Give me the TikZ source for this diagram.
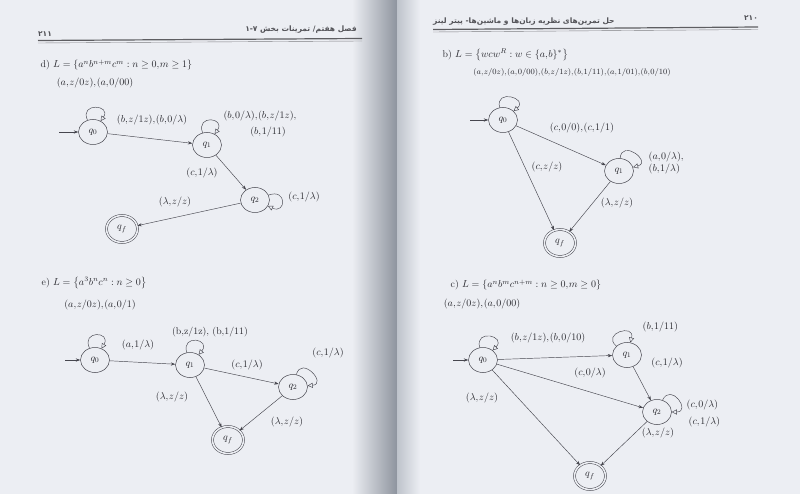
\documentclass[tikz,border=0pt]{standalone}
\usepackage{amssymb}
\usepackage{fontspec}
\usetikzlibrary{arrows.meta}
\usetikzlibrary{shapes.geometric}
\usetikzlibrary{positioning}
\TeXXeTstate=1
\newfontfamily\farsifont[Script=Arabic]{DejaVu Sans}
\definecolor{paper}{RGB}{236,238,243}
\definecolor{gutter}{RGB}{142,148,158}
\definecolor{gutterR}{RGB}{190,195,203}
\definecolor{ink}{RGB}{40,40,46}
\definecolor{wire}{RGB}{70,70,78}
% the book sets the commas in the labels tight
\newcommand{\lblfont}[1]{\fontsize{#1}{11}\selectfont\thinmuskip=1mu\relax}

\begin{document}
\begin{tikzpicture}[x=1pt, y=1pt,
     mystate/.style={ellipse, draw=wire, line width=0.5pt, minimum width=29pt, minimum height=25pt, inner sep=0pt, text=ink, font=\fontsize{10}{12}\selectfont},
     myfinal/.style={mystate, minimum width=31pt, minimum height=27pt, double=paper, double distance=1.6pt},
     mytrans/.style={draw=wire, line width=0.45pt, -{Stealth[length=4.5pt,width=3.2pt]}},
     myloop/.style={draw=wire, line width=0.45pt, min distance=20pt, -{Triangle[length=5pt,width=5pt,fill=paper]}},  % hollow tip on the self loops
     mylabel/.style={text=ink, inner sep=0.5pt, font={\lblfont{9.8}}},
     myhead/.style={text=ink!80, inner sep=0pt, font=\farsifont\bfseries\fontsize{7.5}{9}\selectfont}
 ]
 \useasboundingbox (0,0) rectangle (800,-494);

 % the two pages and the fold between them
 \fill[paper] (0,0) rectangle (800,-494);
 \shade[left color=paper, right color=gutter] (352,0) rectangle (397,-494);
 \shade[left color=gutterR, right color=paper] (397,0) rectangle (420,-494);

 % running heads
 \node[myhead, anchor=east] (headL) at (357,-30) {\beginR فصل هفتم/ تمرینات بخش ۱-۷\endR};
 \node[myhead] (pageL) at (45,-34) {۲۱۱};
 \draw[ink!75, line width=1.2pt] (38,-40.5) -- (362,-38.5);
 \draw[ink!60, line width=0.4pt] (38,-43) -- (362,-41);
 \node[myhead, anchor=west] (headR) at (433,-22) {\beginR حل تمرین‌های نظریه زبان‌ها و ماشین‌ها- پیتر لینز\endR};
 \node[myhead] (pageR) at (751,-18) {۲۱۰};
 \draw[ink!75, line width=1.2pt] (433,-29.5) -- (758,-27);
 \draw[ink!60, line width=0.4pt] (433,-32) -- (758,-29.5);

 % titles
 \node[mylabel, anchor=west] (dtitle) at (40,-65) {d) $L=\left\{a^nb^{n+m}c^m : n\geq 0, m\geq 1\right\}$};
 \node[mylabel, anchor=west] (etitle) at (41,-283) {e) $L=\left\{a^3b^nc^n : n\geq 0\right\}$};
 \node[mylabel, anchor=west] (btitle) at (442,-55) {b) $L=\left\{wcw^R : w\in\{a,b\}^*\right\}$};
 \node[mylabel, anchor=west] (ctitle) at (450,-285) {c) $L=\left\{a^nb^mc^{n+m} : n\geq 0, m\geq 0\right\}$};

 % states: name/subscript/x/y
 \foreach \nm/\sub/\x/\y in {d0/0/93/132, d1/1/207/145, d2/2/255/200,
                            e0/0/95/360, e1/1/190/365, e2/2/293/387,
                            b0/0/503/120, b1/1/619/171,
                            c0/0/483/360, c1/1/627/355, c2/2/657/412}
     \node[mystate] (\nm) at (\x,-\y) {$q_{\sub}$};
 \foreach \nm/\x/\y in {df/122/229, ef/228/440, bf/560/243, cf/590/476}
     \node[myfinal] (\nm) at (\x,-\y) {$q_f$};

 % start arrows
 \foreach \nm/\x/\y in {d0/59/132, e0/65/360, b0/470/120, c0/453/360} {
     \coordinate (\nm start) at (\x,-\y);
     \draw[mytrans] (\nm start) -- (\nm);
 }

 % transitions
 \foreach \a/\b in {d0/d1, d1/d2, d2/df, e0/e1, e1/e2, e1/ef, e2/ef,
                    b0/b1, b0/bf, b1/bf, c0/c1, c0/c2, c0/cf, c1/c2, c2/cf}
     \draw[mytrans] (\a) -- (\b);

 % self loops: state/out/in
 \foreach \nm/\o/\i in {d0/115/55, d1/110/55, d2/20/-25, e0/115/60, e1/105/50, e2/75/5,
                        b0/105/40, b1/85/15, c0/105/45, c1/140/75, c2/65/0}
     \draw[myloop] (\nm) to[out=\o,in=\i] (\nm);

 % labels of d)
 \node[mylabel] (dl0) at (95,-83) {$(a,z/0z),(a,0/00)$};
 \node[mylabel] (dl01) at (152,-120) {$(b,z/1z),(b,0/\lambda)$};
 \node[mylabel] (dl1a) at (260,-116) {$(b,0/\lambda),(b,z/1z),$};
 \node[mylabel] (dl1b) at (268,-132) {$(b,1/11)$};
 \node[mylabel] (dl12) at (202,-173) {$(c,1/\lambda)$};
 \node[mylabel] (dl2) at (304,-197) {$(c,1/\lambda)$};
 \node[mylabel] (dl2f) at (175,-202) {$(\lambda,z/z)$};

 % labels of e)
 \node[mylabel] (el0) at (100,-305) {$(a,z/0z),(a,0/1)$};
 \node[mylabel] (el01) at (138,-345) {$(a,1/\lambda)$};
 \node[mylabel] (el1) at (210,-332) {(b,z/1z), (b,1/11)};
 \node[mylabel] (el12) at (247,-365) {$(c,1/\lambda)$};
 \node[mylabel] (el2) at (328,-353) {$(c,1/\lambda)$};
 \node[mylabel] (el1f) at (172,-397) {$(\lambda,z/z)$};
 \node[mylabel] (el2f) at (287,-422) {$(\lambda,z/z)$};

 % labels of b)
 \node[mylabel, font={\lblfont{8.4}}] (bl0) at (572,-73) {$(a,z/0z),(a,0/00),(b,z/1z),(b,1/11),(a,1/01),(b,0/10)$};
 \node[mylabel] (bl01) at (582,-128) {$(c,0/0),(c,1/1)$};
 \node[mylabel, anchor=west] (bl1a) at (648,-157) {$(a,0/\lambda),$};
 \node[mylabel, anchor=west] (bl1b) at (648,-169) {$(b,1/\lambda)$};
 \node[mylabel] (bl0f) at (547,-167) {$(c,z/z)$};
 \node[mylabel] (bl1f) at (617,-203) {$(\lambda,z/z)$};

 % labels of c)
 \node[mylabel] (cl0) at (482,-304) {$(a,z/0z),(a,0/00)$};
 \node[mylabel] (cl01) at (548,-338) {$(b,z/1z),(b,0/10)$};
 \node[mylabel, anchor=west] (cl1) at (642,-327) {$(b,1/11)$};
 \node[mylabel] (cl12) at (667,-363) {$(c,1/\lambda)$};
 \node[mylabel] (cl02) at (590,-373) {$(c,0/\lambda)$};
 \node[mylabel, anchor=west] (cl2a) at (686,-405) {$(c,0/\lambda)$};
 \node[mylabel, anchor=west] (cl2b) at (688,-422) {$(c,1/\lambda)$};
 \node[mylabel] (cl0f) at (482,-398) {$(\lambda,z/z)$};
 \node[mylabel] (cl2f) at (658,-433) {$(\lambda,z/z)$};
\end{tikzpicture}
\end{document}
